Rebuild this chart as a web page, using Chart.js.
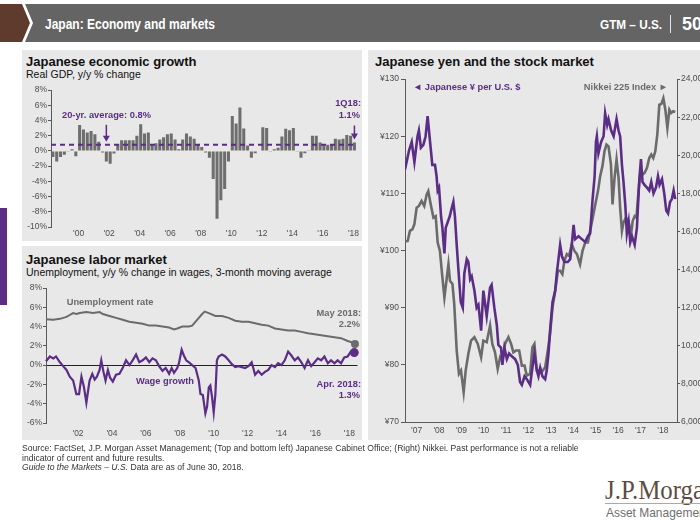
<!DOCTYPE html>
<html>
<head>
<meta charset="utf-8">
<script src="https://cdn.jsdelivr.net/npm/chart.js@4.4.1/dist/chart.umd.min.js"></script>
<style>
  body { margin: 0; width: 700px; height: 525px; background: #fff; position: relative; overflow: hidden;
         font-family: "Liberation Sans", Arial, sans-serif; }
  .abs { position: absolute; white-space: nowrap; line-height: 1; }
  .panel { position: absolute; background: #e8e8e8; }
  .title { font-weight: bold; font-size: 13px; color: #111; }
  .sub { font-size: 10.5px; color: #111; }
  .note { font-weight: bold; font-size: 9.3px; }
  .right { text-align: right; }
  .purple { color: #5b2d86; }
  .grey { color: #6b6b6b; }
  canvas { position: absolute; }
</style>
</head>
<body>

<!-- header -->
<svg class="abs" style="left:0;top:0" width="700" height="46">
  <polygon points="0,4 22,4 30,23 22,42 0,42" fill="#5e3b2c"/>
  <polygon points="25,4 700,4 700,42 25,42 33,23" fill="#646464"/>
</svg>
<div id="hdrTitle" class="abs" style="left:45px;top:15.5px;font-size:15px;font-weight:bold;color:#fff;">Japan: Economy and markets</div>
<div id="hdrGtm" class="abs" style="left:600px;top:19px;font-size:12px;font-weight:bold;color:#fff;">GTM – U.S.</div>
<div class="abs" style="left:669.5px;top:15px;width:1.6px;height:18px;background:#e4e6ee;"></div>
<div id="hdrPage" class="abs" style="left:682px;top:15px;font-size:18px;font-weight:bold;color:#fff;">50</div>

<div class="abs" style="left:0;top:208px;width:7px;height:97px;background:#5b2d86;"></div>

<!-- panels -->
<div class="panel" style="left:22px;top:50px;width:340px;height:191px;"></div>
<div class="panel" style="left:22px;top:246px;width:340px;height:194px;"></div>
<div class="panel" style="left:368px;top:50px;width:332px;height:390px;"></div>

<canvas id="gdpChart" width="340" height="168" style="left:22px;top:82px;"></canvas>
<canvas id="laborChart" width="340" height="170" style="left:22px;top:280px;"></canvas>
<canvas id="fxChart" width="332" height="380" style="left:368px;top:72px;"></canvas>

<!-- titles -->
<div class="abs title" style="left:26px;top:55px;">Japanese economic growth</div>
<div class="abs sub" style="left:26px;top:69px;">Real GDP, y/y % change</div>
<div class="abs title" style="left:26px;top:252.5px;">Japanese labor market</div>
<div class="abs sub" style="left:26px;top:266.5px;">Unemployment, y/y % change in wages, 3-month moving average</div>
<div class="abs title" style="left:375px;top:55px;">Japanese yen and the stock market</div>

<!-- annotations -->
<div class="abs note purple" style="left:62px;top:111.4px;">20-yr. average: 0.8%</div>
<div class="abs note purple right" style="right:339px;top:98.7px;">1Q18:</div>
<div class="abs note purple right" style="right:340px;top:111.4px;">1.1%</div>

<div class="abs note grey" style="left:66.7px;top:298px;">Unemployment rate</div>
<div class="abs note purple" style="left:136px;top:377px;">Wage growth</div>
<div class="abs note grey right" style="right:339px;top:308.7px;">May 2018:</div>
<div class="abs note grey right" style="right:340px;top:320.4px;">2.2%</div>
<div class="abs note purple right" style="right:339px;top:380.4px;">Apr. 2018:</div>
<div class="abs note purple right" style="right:340px;top:391.4px;">1.3%</div>

<div class="abs note purple" style="left:413px;top:83px;">◄ Japanese ¥ per U.S. $</div>
<div class="abs note grey right" style="right:32px;top:83px;">Nikkei 225 Index ►</div>

<!-- footer -->
<div class="abs" style="left:22px;top:444px;font-size:8.6px;line-height:9.6px;color:#333;">
Source: FactSet, J.P. Morgan Asset Management; (Top and bottom left) Japanese Cabinet Office; (Right) Nikkei. Past performance is not a reliable<br>
indicator of current and future results.<br>
<i>Guide to the Markets – U.S.</i> Data are as of June 30, 2018.
</div>

<!-- logo -->
<div class="abs" style="left:605px;top:477.4px;font-family:'Liberation Serif','Times New Roman',serif;font-size:27px;color:#5d4c42;transform:scaleX(0.92);transform-origin:left top;">J.P.Morgan</div>
<div class="abs" style="left:605px;top:503px;width:95px;height:1px;background:#a9a9a9;"></div>
<div class="abs" style="left:606px;top:505.7px;font-size:13px;color:#6f6f6f;transform:scaleX(0.92);transform-origin:left top;">Asset Management</div>

<script>
// ---- data ----
// Japan real GDP, y/y %, quarterly from 2Q98 to 1Q18
const gdpGrowth = [
  -0.8, -1.4, -0.8, -0.5, -0.1, 0.2, -0.7,
  3.4, 2.8, 2.4, 2.6, 2.2, 1.2,
  -0.2, -1.4, -1.7, -0.35,
  0.9, 1.4, 1.4, 1.4, 1.4, 2.0,
  3.5, 2.3, 2.4, 0.9,
  1.0, 1.5, 1.8, 2.2,
  2.3, 1.5, 0.2, 1.5,
  2.3, 1.9, 1.6, 0.9,
  0.5, -0.2, -0.9, -3.7,
  -8.9, -6.5, -5.0, -1.4,
  4.6, 3.6, 5.7, 2.95,
  0.7, -0.9, -0.3, 0.05,
  3.1, 3.0, -0.1, 0.2,
  0.4, 1.9, 2.9, 2.7,
  3.0, -0.1, -0.9, -0.3,
  0.1, 2.0, 2.0, 1.1,
  0.75, 0.8, 0.9, 1.6,
  1.5, 1.6, 2.1, 2.0,
  1.1
];
const gdpFirstYear = 1998;
const gdpFirstQuarter = 2;
const gdpAverage = 0.8;
const gdpTickLabels = ["'00", "'02", "'04", "'06", "'08", "'10", "'12", "'14", "'16", "'18"];

// unemployment rate %, [year, value]
const unemployment = [
  [2000.11, 4.75], [2000.54, 4.7], [2000.93, 4.8], [2001.32, 5.0], [2001.51, 5.2], [2001.71, 5.4],
  [2001.90, 5.3], [2002.10, 5.4], [2002.49, 5.5], [2002.88, 5.4], [2003.27, 5.5], [2003.46, 5.3],
  [2003.86, 5.1], [2004.24, 4.9], [2004.63, 4.7], [2005.03, 4.5], [2005.42, 4.4], [2005.81, 4.3],
  [2006.20, 4.1], [2006.59, 4.1], [2006.98, 4.0], [2007.37, 3.9], [2007.66, 3.7], [2007.85, 3.8],
  [2008.15, 4.0], [2008.54, 4.0], [2008.73, 4.1], [2009.02, 4.7], [2009.32, 5.3], [2009.47, 5.55],
  [2009.71, 5.4], [2010.10, 5.1], [2010.49, 5.1], [2010.88, 4.9], [2011.27, 4.6], [2011.66, 4.5],
  [2012.05, 4.5], [2012.44, 4.35], [2012.83, 4.2], [2013.22, 4.1], [2013.61, 3.8], [2014.00, 3.7],
  [2014.39, 3.6], [2014.78, 3.6], [2015.17, 3.45], [2015.56, 3.3], [2015.95, 3.2], [2016.34, 3.1],
  [2016.73, 3.0], [2017.12, 2.9], [2017.51, 2.8], [2017.90, 2.5], [2018.09, 2.4], [2018.33, 2.2]
];

// wage growth, y/y %, 3-month moving average, [year, value]
const wageGrowth = [
  [2000.11, 0.4], [2000.34, 0.9], [2000.54, 0.7], [2000.70, 0.9], [2000.93, 0.3],
  [2001.12, -0.1], [2001.32, -0.5], [2001.51, -1.2], [2001.71, -1.6], [2001.90, -3.0],
  [2002.06, -3.0], [2002.20, -1.2], [2002.35, -2.3], [2002.49, -3.9], [2002.68, -1.6], [2002.84, -0.9], [2002.98, -1.5],
  [2003.11, -1.2], [2003.27, -0.5], [2003.37, 0.5], [2003.50, -0.7], [2003.62, -1.6], [2003.76, -0.5], [2003.89, -1.3],
  [2004.05, -1.7], [2004.24, -1.0], [2004.44, -0.9], [2004.63, -0.3], [2004.83, 0.5],
  [2005.03, 0.0], [2005.22, 0.5], [2005.42, 1.1], [2005.61, 0.3], [2005.81, 0.5],
  [2006.00, 0.8], [2006.20, 0.3], [2006.39, 0.7], [2006.59, 0.5], [2006.78, -0.1], [2006.98, -0.6],
  [2007.17, -0.3], [2007.37, -0.9], [2007.52, -0.3], [2007.66, -0.8], [2007.85, -0.3], [2007.95, 0.2],
  [2008.11, 1.6], [2008.24, 1.0], [2008.38, 0.5], [2008.54, 0.3], [2008.73, 0.0], [2008.93, -0.3],
  [2009.12, -1.6], [2009.22, -3.0], [2009.36, -3.1], [2009.51, -5.0], [2009.61, -4.3], [2009.71, -2.3], [2009.80, -2.1], [2009.90, -3.3],
  [2010.00, -4.9], [2010.10, -3.0], [2010.19, 0.5], [2010.29, 0.9], [2010.49, 1.1], [2010.68, 0.9], [2010.88, 0.5],
  [2011.07, 0.1], [2011.27, -0.2], [2011.46, -0.1], [2011.66, -0.2], [2011.85, -0.3],
  [2012.05, -0.1], [2012.24, 0.3], [2012.44, -1.0], [2012.63, -0.6], [2012.83, -1.0],
  [2013.02, -0.7], [2013.22, -0.5], [2013.41, 0.0], [2013.61, -0.2], [2013.80, 0.2],
  [2014.00, 0.0], [2014.19, 0.5], [2014.39, 1.4], [2014.58, 1.0], [2014.78, 0.5], [2014.97, 0.8],
  [2015.17, 0.3], [2015.36, -0.3], [2015.56, 0.5], [2015.75, -0.1], [2015.95, 0.3],
  [2016.14, 0.7], [2016.34, 0.5], [2016.53, 0.9], [2016.73, 0.2], [2016.92, 0.5],
  [2017.12, 0.2], [2017.31, 0.5], [2017.51, 0.2], [2017.70, 0.8], [2017.90, 0.9],
  [2018.09, 1.4], [2018.29, 1.3]
];
const laborTickYears = [2002, 2004, 2006, 2008, 2010, 2012, 2014, 2016, 2018];

// yen per US$, [year, value]
const yenPerDollar = [
  [2006.48, 114.2], [2006.66, 117.5], [2006.78, 119], [2006.90, 115.5], [2007.04, 120], [2007.10, 121],
  [2007.19, 118], [2007.30, 118.5], [2007.40, 120], [2007.49, 123.5], [2007.60, 119], [2007.70, 115],
  [2007.82, 115], [2007.89, 113], [2007.94, 110.5], [2008.00, 111], [2008.09, 106], [2008.15, 104],
  [2008.24, 99.5], [2008.30, 104], [2008.39, 105], [2008.48, 106], [2008.54, 107], [2008.64, 108.5],
  [2008.71, 106], [2008.79, 101], [2008.86, 97], [2008.97, 91], [2009.06, 90], [2009.13, 96],
  [2009.24, 98.5], [2009.31, 98], [2009.39, 95], [2009.46, 95.5], [2009.58, 93], [2009.68, 90],
  [2009.76, 90.5], [2009.88, 86], [2009.98, 93], [2010.13, 88.5], [2010.28, 93.5], [2010.35, 94],
  [2010.47, 90], [2010.58, 87], [2010.65, 83.5], [2010.77, 83], [2010.83, 80], [2010.92, 83],
  [2011.03, 81], [2011.13, 82], [2011.25, 81.5], [2011.40, 81], [2011.52, 80], [2011.62, 77],
  [2011.70, 76.5], [2011.82, 78], [2011.92, 77.5], [2012.07, 76.5], [2012.17, 79.5], [2012.26, 82],
  [2012.37, 79], [2012.44, 78], [2012.52, 79.5], [2012.62, 78], [2012.74, 77.5], [2012.81, 79],
  [2012.89, 82], [2012.96, 86], [2013.07, 91], [2013.19, 93], [2013.26, 96], [2013.41, 101],
  [2013.49, 99], [2013.60, 98], [2013.75, 98], [2013.86, 98.5], [2013.93, 101], [2014.01, 104.5],
  [2014.08, 102], [2014.23, 102.5], [2014.38, 102], [2014.53, 101.5], [2014.65, 102.5], [2014.75, 103],
  [2014.86, 109], [2014.95, 113], [2015.01, 119], [2015.05, 120], [2015.12, 117], [2015.24, 119],
  [2015.35, 120], [2015.42, 124], [2015.51, 122], [2015.57, 123], [2015.69, 121], [2015.80, 120],
  [2015.93, 123], [2016.02, 121], [2016.09, 120], [2016.17, 115], [2016.24, 112], [2016.32, 108],
  [2016.39, 103], [2016.47, 105], [2016.54, 101.5], [2016.62, 102.5], [2016.74, 101], [2016.84, 104],
  [2016.94, 112], [2017.02, 116], [2017.09, 112], [2017.18, 111.5], [2017.29, 111], [2017.39, 110.5],
  [2017.48, 112], [2017.58, 110], [2017.69, 111], [2017.78, 113], [2017.85, 111.5], [2017.96, 112.5],
  [2018.06, 110], [2018.15, 107], [2018.23, 106.5], [2018.32, 108.5], [2018.40, 109], [2018.48, 110.5],
  [2018.55, 109]
];

// Nikkei 225 index level, [year, value]
const nikkei225 = [
  [2006.48, 15470], [2006.60, 15500], [2006.70, 16030], [2006.81, 16110], [2006.90, 16380], [2007.00, 17250],
  [2007.10, 17340], [2007.22, 17600], [2007.34, 17340], [2007.45, 17950], [2007.52, 18120], [2007.63, 17420],
  [2007.75, 16730], [2007.85, 16800], [2007.94, 15420], [2008.04, 14980], [2008.15, 13590], [2008.24, 12540],
  [2008.34, 13500], [2008.42, 14280], [2008.49, 13410], [2008.60, 13240], [2008.68, 12190], [2008.79, 9750],
  [2008.89, 8530], [2008.98, 8700], [2009.10, 7570], [2009.19, 8700], [2009.31, 9580], [2009.43, 10270],
  [2009.58, 10450], [2009.73, 10100], [2009.88, 9400], [2009.98, 10270], [2010.13, 10190], [2010.28, 11060],
  [2010.38, 10100], [2010.50, 9660], [2010.62, 8790], [2010.73, 9400], [2010.83, 9230], [2010.95, 10100],
  [2011.10, 10450], [2011.22, 10100], [2011.32, 9660], [2011.43, 9750], [2011.58, 9750], [2011.70, 8960],
  [2011.82, 8960], [2011.92, 8440], [2012.07, 8530], [2012.17, 9920], [2012.26, 10100], [2012.37, 8700],
  [2012.47, 8700], [2012.59, 8620], [2012.74, 8880], [2012.86, 9750], [2012.96, 10620], [2013.07, 12020],
  [2013.19, 12890], [2013.31, 13940], [2013.41, 13940], [2013.51, 13760], [2013.60, 14460], [2013.71, 14810],
  [2013.81, 14720], [2013.93, 15330], [2014.05, 14980], [2014.16, 14810], [2014.30, 14280], [2014.41, 14980],
  [2014.53, 15420], [2014.65, 15420], [2014.75, 16030], [2014.87, 16730], [2014.98, 17420], [2015.10, 18120],
  [2015.20, 18910], [2015.30, 19430], [2015.39, 20210], [2015.48, 20560], [2015.57, 20470], [2015.68, 19520],
  [2015.75, 17420], [2015.84, 18820], [2015.93, 19780], [2016.02, 18820], [2016.09, 17250], [2016.17, 16030],
  [2016.24, 16470], [2016.35, 16730], [2016.47, 16550], [2016.56, 15680], [2016.65, 16550], [2016.74, 16810],
  [2016.82, 16730], [2016.91, 18120], [2017.00, 19170], [2017.09, 18990], [2017.18, 19080], [2017.29, 19340],
  [2017.39, 19860], [2017.48, 20040], [2017.57, 19860], [2017.66, 20210], [2017.75, 21090], [2017.84, 22660],
  [2017.93, 22690], [2018.02, 23000], [2018.11, 22390], [2018.20, 21440], [2018.29, 22390], [2018.37, 22220],
  [2018.46, 22310], [2018.55, 22270]
];
const fxTickYears = [2007, 2008, 2009, 2010, 2011, 2012, 2013, 2014, 2015, 2016, 2017, 2018];

// ---- helpers ----
const PURPLE = '#5b2d86';
const GREY = '#6b6b6b';
const BAR_GREY = '#6e6e6e';
const AXIS = '#5a5a5a';

Chart.defaults.font.family = '"Liberation Sans", Arial, sans-serif';
Chart.defaults.font.size = 8.5;
Chart.defaults.color = '#4d4d4d';
Chart.defaults.animation = false;
Chart.defaults.plugins.legend.display = false;
Chart.defaults.plugins.tooltip.enabled = false;

const toPoints = rows => rows.map(r => ({ x: r[0], y: r[1] }));
const yearLabel = v => "'" + String(v).slice(2);
const lastDot = (n, r) => ctx => ctx.dataIndex === n - 1 ? r : 0;

const gdpQuarters = [];
for (let i = 0; i < gdpGrowth.length; i++) {
  const q = (gdpFirstQuarter - 1 + i) % 4 + 1;
  const y = gdpFirstYear + Math.floor((gdpFirstQuarter - 1 + i) / 4);
  gdpQuarters.push(q + 'Q' + String(y).slice(2));
}

function drawDownArrow(ctx, x, yTail, yTip, color) {
  ctx.save();
  ctx.setLineDash([]);
  ctx.strokeStyle = color;
  ctx.fillStyle = color;
  ctx.lineWidth = 1.5;
  ctx.beginPath();
  ctx.moveTo(x, yTail);
  ctx.lineTo(x, yTip - 5);
  ctx.stroke();
  ctx.beginPath();
  ctx.moveTo(x - 3.5, yTip - 6);
  ctx.lineTo(x + 3.5, yTip - 6);
  ctx.lineTo(x, yTip);
  ctx.closePath();
  ctx.fill();
  ctx.restore();
}

// average line + arrows on the GDP chart
const gdpNotes = {
  id: 'gdpNotes',
  afterDatasetsDraw(chart) {
    const { ctx, chartArea, scales } = chart;
    const yAvg = scales.y.getPixelForValue(gdpAverage);
    ctx.save();
    ctx.strokeStyle = PURPLE;
    ctx.lineWidth = 2;
    ctx.setLineDash([5, 4]);
    ctx.beginPath();
    ctx.moveTo(chartArea.left, yAvg);
    ctx.lineTo(chartArea.right, yAvg);
    ctx.stroke();
    ctx.restore();

    const avgTip = yAvg - 3;
    drawDownArrow(ctx, scales.x.getPixelForValue(14), avgTip - 17, avgTip, PURPLE);
    const last = gdpGrowth.length - 1;
    const lastTip = scales.y.getPixelForValue(gdpGrowth[last]) - 3;
    drawDownArrow(ctx, scales.x.getPixelForValue(last), lastTip - 14, lastTip, PURPLE);
  }
};

// ---- charts ----
new Chart(document.getElementById('gdpChart'), {
  type: 'bar',
  data: {
    labels: gdpQuarters,
    datasets: [{ data: gdpGrowth, backgroundColor: BAR_GREY, borderWidth: 0, barPercentage: 0.8, categoryPercentage: 1 }]
  },
  options: {
    responsive: false,
    devicePixelRatio: 1,
    layout: { padding: { top: 8, right: 5, left: 0, bottom: 10 } },
    scales: {
      x: {
        grid: { display: false, drawTicks: false },
        border: { display: false },
        ticks: {
          autoSkip: false, maxRotation: 0, padding: 2, labelOffset: -1,
          callback: (v, i) => {
            const lab = gdpQuarters[i];
            const t = "'" + lab.slice(2);
            return lab.startsWith('1Q') && gdpTickLabels.includes(t) ? t : null;
          }
        },
        afterFit: s => { s.height = 13; }
      },
      y: {
        min: -10, max: 8,
        ticks: { stepSize: 2, padding: 1, callback: v => v + '%' },
        grid: { drawOnChartArea: false, tickLength: 3, tickColor: AXIS },
        border: { color: AXIS },
        afterFit: s => { s.width = 29; }
      }
    }
  },
  plugins: [gdpNotes]
});

new Chart(document.getElementById('laborChart'), {
  type: 'line',
  data: {
    datasets: [
      {
        data: toPoints(wageGrowth), borderColor: PURPLE, borderWidth: 2.2, clip: false,
        pointRadius: lastDot(wageGrowth.length, 4.5), pointBackgroundColor: PURPLE, pointBorderWidth: 0
      },
      {
        data: toPoints(unemployment), borderColor: GREY, borderWidth: 2, clip: false,
        pointRadius: lastDot(unemployment.length, 4), pointBackgroundColor: GREY, pointBorderWidth: 0
      }
    ]
  },
  options: {
    responsive: false,
    devicePixelRatio: 1,
    layout: { padding: { top: 8, right: 2, left: 0, bottom: 10 } },
    scales: {
      x: {
        type: 'linear', min: 2000.11, max: 2018.48,
        afterBuildTicks: s => { s.ticks = laborTickYears.map(v => ({ value: v })); },
        ticks: { maxRotation: 0, padding: 6, callback: yearLabel },
        grid: { display: false, drawTicks: false },
        border: { display: false },
        afterFit: s => { s.height = 17; }
      },
      y: {
        min: -6, max: 8,
        ticks: { stepSize: 2, padding: 1, callback: v => v + '%' },
        grid: {
          color: c => c.tick && c.tick.value === 0 ? '#222' : 'rgba(0,0,0,0)',
          tickColor: AXIS, tickLength: 3
        },
        border: { color: AXIS },
        afterFit: s => { s.width = 24; }
      }
    }
  }
});

new Chart(document.getElementById('fxChart'), {
  type: 'line',
  data: {
    datasets: [
      { data: toPoints(yenPerDollar), yAxisID: 'yen', borderColor: PURPLE, borderWidth: 2.6, pointRadius: 0, order: 0 },
      { data: toPoints(nikkei225), yAxisID: 'nikkei', borderColor: GREY, borderWidth: 2.6, pointRadius: 0, order: 1 }
    ]
  },
  options: {
    responsive: false,
    devicePixelRatio: 1,
    layout: { padding: { top: 6, right: 0, left: 0, bottom: 12 } },
    scales: {
      x: {
        type: 'linear', min: 2006.48, max: 2018.63,
        afterBuildTicks: s => { s.ticks = fxTickYears.map(v => ({ value: v })); },
        ticks: { maxRotation: 0, padding: 4, callback: yearLabel },
        grid: { display: false, drawTicks: false },
        border: { color: AXIS },
        afterFit: s => { s.height = 18; }
      },
      yen: {
        position: 'left', min: 70, max: 130,
        ticks: { stepSize: 10, padding: 2, callback: v => '¥' + v },
        grid: { drawOnChartArea: false, tickLength: 4, tickColor: AXIS },
        border: { color: AXIS },
        afterFit: s => { s.width = 37; }
      },
      nikkei: {
        position: 'right', min: 6000, max: 24000,
        ticks: { stepSize: 2000, padding: 1, callback: v => v.toLocaleString('en-US') },
        grid: { drawOnChartArea: false, tickLength: 3, tickColor: AXIS },
        border: { color: AXIS },
        afterFit: s => { s.width = 23; }
      }
    }
  }
});

// squeeze the header texts to the condensed look of the slide
function fitWidth(id, target) {
  const el = document.getElementById(id);
  const w = el.getBoundingClientRect().width;
  el.style.transformOrigin = 'left top';
  el.style.transform = 'scaleX(' + (target / w) + ')';
}
fitWidth('hdrTitle', 170);
fitWidth('hdrGtm', 62);
</script>
</body>
</html>
